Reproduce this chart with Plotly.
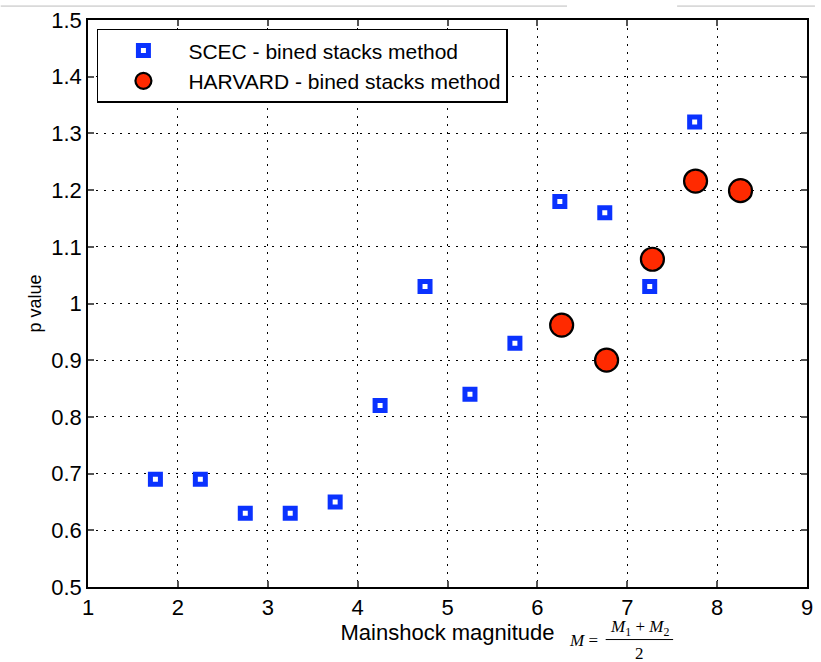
import plotly.graph_objects as go

# SCEC binned-stack estimates
scec_mag = [1.75, 2.25, 2.75, 3.25, 3.75, 4.25, 4.75, 5.25, 5.75, 6.25, 6.75, 7.25, 7.75]
scec_p = [0.69, 0.69, 0.63, 0.63, 0.65, 0.82, 1.03, 0.84, 0.93, 1.18, 1.16, 1.03, 1.32]

# Harvard binned-stack estimates
harv_mag = [6.27, 6.77, 7.28, 7.76, 8.26]
harv_p = [0.962, 0.90, 1.078, 1.216, 1.199]

x_ticks = [1, 2, 3, 4, 5, 6, 7, 8, 9]
y_ticks = [0.5, 0.6, 0.7, 0.8, 0.9, 1.0, 1.1, 1.2, 1.3, 1.4, 1.5]
y_tick_text = ["0.5", "0.6", "0.7", "0.8", "0.9", "1", "1.1", "1.2", "1.3", "1.4", "1.5"]

FONT = "Liberation Sans"
SERIF = "Liberation Serif"

# plot-area edges in page pixels
pl, pr, pt, pb = 88, 813, 15, 587


def px_x(v):
    return (v - pl) / (pr - pl)


def px_y(v):
    return 1 - (v - pt) / (pb - pt)


fig = go.Figure()
fig.add_trace(go.Scatter(
    x=scec_mag, y=scec_p, mode="markers",
    name="SCEC - bined stacks method",
    marker=dict(symbol="square-open", size=10, color="#0a32ff",
                line=dict(width=5, color="#0a32ff")),
))
fig.add_trace(go.Scatter(
    x=harv_mag, y=harv_p, mode="markers",
    name="HARVARD - bined stacks method",
    marker=dict(symbol="circle", size=23, color="#ff2a00",
                line=dict(width=2.2, color="black")),
))

axis_common = dict(
    showline=True, linecolor="black", linewidth=1.5, mirror="ticks",
    ticks="inside", ticklen=6, tickcolor="#555", tickwidth=1.5,
    showgrid=True, gridcolor="black", gridwidth=1, griddash="2px,6px",
    zeroline=False, tickfont=dict(family=FONT, size=22, color="black"),
)

fig.update_xaxes(range=[1, 9], tickvals=x_ticks, **axis_common,
                 title=dict(text="Mainshock magnitude",
                            font=dict(family=FONT, size=22, color="black"),
                            standoff=3))
fig.update_yaxes(range=[0.5, 1.5], tickvals=y_ticks, ticktext=y_tick_text, **axis_common,
                 title=dict(text="p value",
                            font=dict(family=FONT, size=18, color="black"),
                            standoff=5))

# Formula M = (M1 + M2) / 2 beside the x-axis title
formula = [
    (588, 641, "<i>M</i> ="),
    (644, 628, "<i>M</i><sub>1</sub> + <i>M</i><sub>2</sub>"),
    (644, 654, "2"),
]
annotations = [
    dict(x=px_x(x), y=px_y(y), xref="paper", yref="paper", text=t,
         showarrow=False, xanchor="center", yanchor="middle",
         font=dict(family=SERIF, size=17, color="black"))
    for x, y, t in formula
]

shapes = [
    # fraction bar
    dict(type="line", xref="paper", yref="paper",
         x0=px_x(610), x1=px_x(678), y0=px_y(640), y1=px_y(640),
         line=dict(color="black", width=1)),
    # thin grey strips along the top edge of the page
    dict(type="rect", xref="paper", yref="paper",
         x0=px_x(0), x1=px_x(571), y0=px_y(0), y1=px_y(2),
         line=dict(width=0), fillcolor="#d9d9d9"),
    dict(type="rect", xref="paper", yref="paper",
         x0=px_x(682), x1=px_x(821), y0=px_y(0), y1=px_y(2),
         line=dict(width=0), fillcolor="#d9d9d9"),
]

fig.update_layout(
    width=821, height=662,
    margin=dict(l=pl, r=821 - pr, t=pt, b=662 - pb),
    paper_bgcolor="white", plot_bgcolor="white",
    showlegend=True,
    legend=dict(x=px_x(97), y=px_y(24), xanchor="left", yanchor="top",
                bgcolor="white", bordercolor="black", borderwidth=1.5,
                font=dict(family=FONT, size=21, color="black"),
                itemwidth=80, tracegroupgap=0),
    annotations=annotations,
    shapes=shapes,
)

fig.write_html("out.html")
